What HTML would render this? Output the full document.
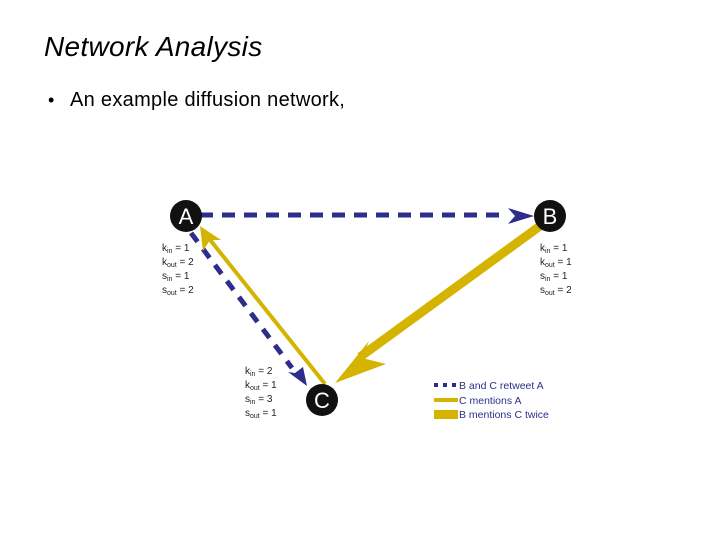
<!DOCTYPE html>
<html><head><style>
body{margin:0;width:720px;height:540px;background:#fff;overflow:hidden;font-family:"Liberation Sans",sans-serif;}
.t{position:absolute;left:44px;top:31px;font-size:28px;font-style:italic;color:#000;font-family:"Liberation Sans",sans-serif;letter-spacing:0.3px;}
.bu{position:absolute;left:48px;top:90px;font-size:18px;color:#000;}
.b{position:absolute;left:70px;top:89px;font-size:20px;color:#000;letter-spacing:0.3px;}
</style></head><body>
<div class="t">Network Analysis</div>
<div class="bu">•</div>
<div class="b">An example diffusion network,</div>
<svg width="720" height="540" style="position:absolute;left:0;top:0" font-family="Liberation Sans, sans-serif">
<line x1="200" y1="215" x2="508" y2="215" stroke="#2d2e8c" stroke-width="5" stroke-dasharray="13,9"/>
<polygon points="534,216 508,208 515,216 508,224" fill="#2d2e8c"/>
<line x1="191" y1="233" x2="292" y2="368" stroke="#2d2e8c" stroke-width="5" stroke-dasharray="11,9"/>
<polygon points="307,386 288,372 295,373 303,367" fill="#2d2e8c"/>
<line x1="325" y1="384" x2="207" y2="236" stroke="#d4b400" stroke-width="4"/>
<polygon points="200,226 221,240 210,240 203,251" fill="#d4b400"/>
<line x1="540" y1="226" x2="360" y2="357" stroke="#d4b400" stroke-width="9"/>
<polygon points="335,383 369,341 362,358 386,364" fill="#d4b400"/>
<circle cx="186" cy="216" r="16" fill="#111"/>
<circle cx="550" cy="216" r="16" fill="#111"/>
<circle cx="322" cy="400" r="16" fill="#111"/>
<text x="186" y="224" font-size="22" fill="#fff" text-anchor="middle">A</text>
<text x="550" y="224" font-size="22" fill="#fff" text-anchor="middle">B</text>
<text x="322" y="408" font-size="22" fill="#fff" text-anchor="middle">C</text>
<g font-size="10" fill="#222">
<text x="162" y="251">k<tspan font-size="7" dy="2">in</tspan><tspan dy="-2"> = 1</tspan></text>
<text x="162" y="265">k<tspan font-size="7" dy="2">out</tspan><tspan dy="-2"> = 2</tspan></text>
<text x="162" y="279">s<tspan font-size="7" dy="2">in</tspan><tspan dy="-2"> = 1</tspan></text>
<text x="162" y="293">s<tspan font-size="7" dy="2">out</tspan><tspan dy="-2"> = 2</tspan></text>
<text x="540" y="251">k<tspan font-size="7" dy="2">in</tspan><tspan dy="-2"> = 1</tspan></text>
<text x="540" y="265">k<tspan font-size="7" dy="2">out</tspan><tspan dy="-2"> = 1</tspan></text>
<text x="540" y="279">s<tspan font-size="7" dy="2">in</tspan><tspan dy="-2"> = 1</tspan></text>
<text x="540" y="293">s<tspan font-size="7" dy="2">out</tspan><tspan dy="-2"> = 2</tspan></text>
<text x="245" y="374">k<tspan font-size="7" dy="2">in</tspan><tspan dy="-2"> = 2</tspan></text>
<text x="245" y="388">k<tspan font-size="7" dy="2">out</tspan><tspan dy="-2"> = 1</tspan></text>
<text x="245" y="402">s<tspan font-size="7" dy="2">in</tspan><tspan dy="-2"> = 3</tspan></text>
<text x="245" y="416">s<tspan font-size="7" dy="2">out</tspan><tspan dy="-2"> = 1</tspan></text>
</g>
<line x1="434" y1="385" x2="458" y2="385" stroke="#2d2e8c" stroke-width="4" stroke-dasharray="4,5"/>
<rect x="434" y="398" width="24" height="4" fill="#d4b400"/>
<rect x="434" y="410" width="24" height="9" fill="#d4b400"/>
<g font-size="10.5" fill="#2d2e8c">
<text x="459" y="389">B and C retweet A</text>
<text x="459" y="404">C mentions A</text>
<text x="459" y="418">B mentions C twice</text>
</g>
</svg>
</body></html>
